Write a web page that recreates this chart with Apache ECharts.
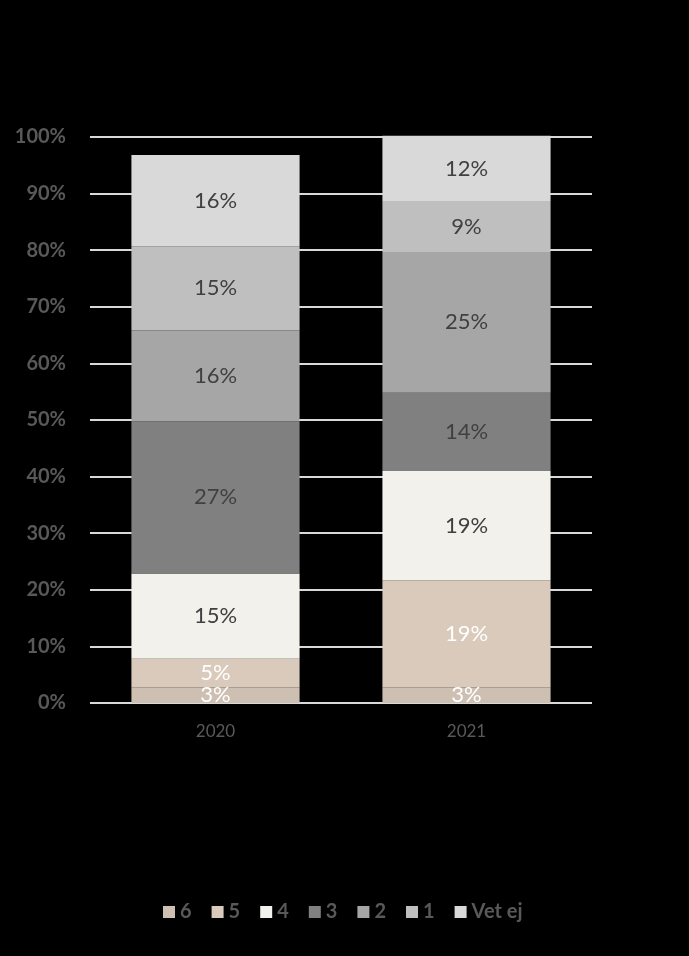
<!DOCTYPE html>
<html>
<head>
<meta charset="utf-8">
<script src="https://cdn.jsdelivr.net/npm/echarts@6/dist/echarts.min.js"></script>
<style>
html,body{margin:0;padding:0;background:#000;}
#chart{width:689px;height:956px;}
</style>
</head>
<body>
<div id="chart"></div>
<script>
var categories = ['2020', '2021'];
var seriesNames = ['6', '5', '4', '3', '2', '1', 'Vet ej'];
var s6 = [2.8, 2.8];
var s5 = [5.0, 18.9];
var s4 = [15.1, 19.3];
var s3 = [26.9, 13.8];
var s2 = [16.0, 24.9];
var s1 = [14.9, 9.0];
var sVetEj = [16.1, 11.5];
var yTicks = [0, 10, 20, 30, 40, 50, 60, 70, 80, 90, 100];

var seriesData = [s6, s5, s4, s3, s2, s1, sVetEj];
var colors = ['#cdbfb2', '#dacabb', '#f3f1eb', '#808080', '#a6a6a6', '#bfbfbf', '#d9d9d9'];
var labelColors = ['#ffffff', '#ffffff', '#404040', '#404040', '#404040', '#404040', '#404040'];
var FONT = 'Lato';

var chart = echarts.init(document.getElementById('chart'));
chart.setOption({
  backgroundColor: '#000000',
  animation: false,
  textStyle: { fontFamily: FONT },
  legend: {
    bottom: 29,
    left: 158,
    itemWidth: 12,
    itemHeight: 12,
    itemGap: 20,
    icon: 'rect',
    textStyle: { color: '#595959', fontSize: 20, fontWeight: 'bold', fontFamily: FONT },
    data: seriesNames
  },
  grid: { left: 90, right: 97, top: 137, bottom: 253, containLabel: false },
  xAxis: {
    type: 'category',
    data: categories,
    axisLine: { show: false },
    axisTick: { show: false },
    axisLabel: { color: '#595959', fontSize: 17, margin: 20, fontFamily: FONT }
  },
  yAxis: {
    type: 'value',
    min: yTicks[0],
    max: yTicks[yTicks.length - 1],
    interval: 10,
    axisLine: { show: false },
    axisTick: { show: false },
    axisLabel: { color: '#595959', fontSize: 20, fontWeight: 'bold', margin: 24, formatter: '{value}%', fontFamily: FONT },
    splitLine: { lineStyle: { color: '#d9d9d9', width: 2 } }
  },
  series: seriesNames.map(function (name, i) {
    return {
      name: name,
      type: 'bar',
      stack: 'total',
      barWidth: '67%',
      clip: false,
      data: seriesData[i],
      itemStyle: { color: colors[i] },
      label: {
        show: true,
        position: 'inside',
        color: labelColors[i],
        fontSize: 22,
        fontFamily: FONT,
        formatter: function (p) { return Math.round(p.value) + '%'; }
      }
    };
  })
});
</script>
</body>
</html>
